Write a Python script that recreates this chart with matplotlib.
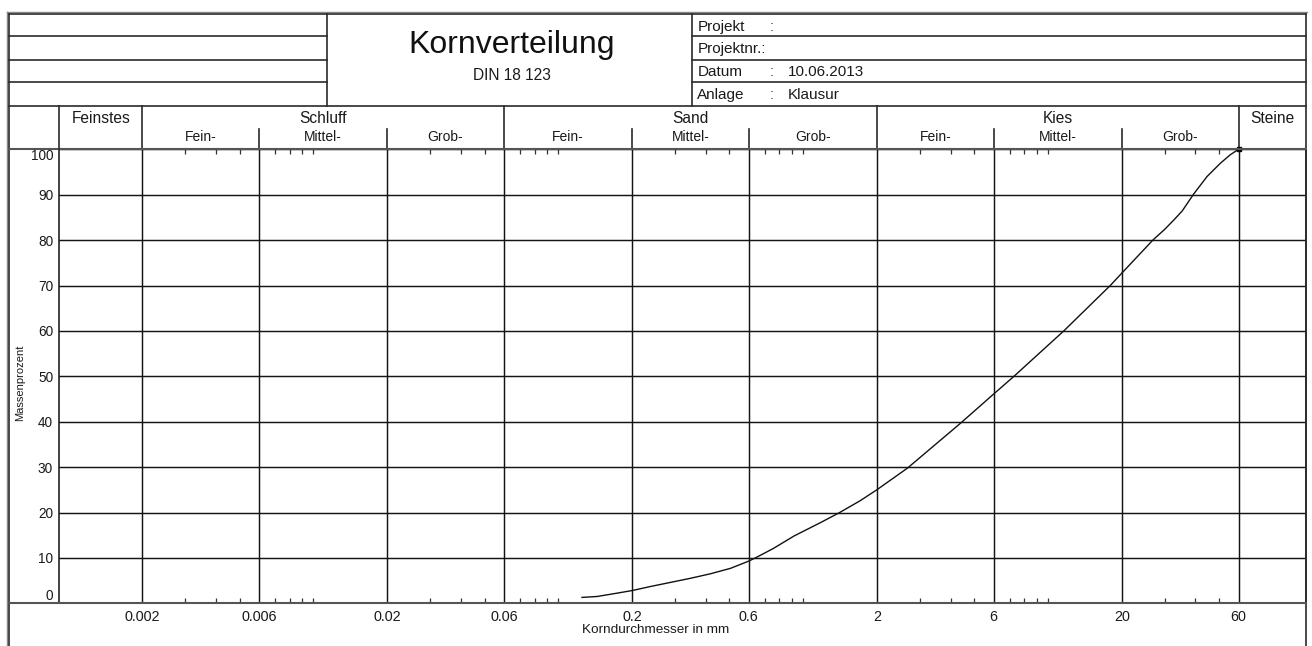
import matplotlib
matplotlib.use('Agg')
import matplotlib.pyplot as plt
from matplotlib.transforms import blended_transform_factory
from matplotlib.ticker import FixedLocator, FixedFormatter, NullFormatter
import numpy as np

plt.rcParams['font.family'] = ['Liberation Sans', 'DejaVu Sans']

# ---------------- data ----------------
korn_mm = [0.125, 0.144, 0.168, 0.2, 0.238, 0.287, 0.346, 0.418, 0.505, 0.6, 0.649,
           0.757, 0.916, 1.18, 1.41, 1.71, 2.0, 2.67, 4.40, 6.0, 7.26, 11.6, 17.96,
           20.0, 26.8, 30.0, 32.6, 35.3, 39.4, 44.6, 50.5, 55.5, 60.0]
massen_pct = [1.3, 1.5, 2.1, 2.8, 3.7, 4.6, 5.5, 6.5, 7.7, 9.3, 10.2,
              12.1, 14.8, 17.8, 20.0, 22.6, 25.0, 29.8, 39.7, 46.1, 50.0, 60.0, 70.0,
              72.7, 80.0, 82.4, 84.4, 86.4, 90.2, 94.0, 96.9, 98.8, 100.0]

x_major = [0.002, 0.006, 0.02, 0.06, 0.2, 0.6, 2, 6, 20, 60]
x_major_labels = ['0.002', '0.006', '0.02', '0.06', '0.2', '0.6', '2', '6', '20', '60']
y_ticks = [0, 10, 20, 30, 40, 50, 60, 70, 80, 90, 100]
y_tick_labels = [str(v) for v in y_ticks]

class_names = ['Feinstes', 'Schluff', 'Sand', 'Kies', 'Steine']
class_bounds = [0.002, 0.06, 2, 60]
sub_bounds = [0.006, 0.02, 0.2, 0.6, 6, 20]
sub_names = ['Fein-', 'Mittel-', 'Grob-']

info_labels = ['Projekt', 'Projektnr.:', 'Datum', 'Anlage']
info_colons = [':', '', ':', ':']
info_values = ['', '', '10.06.2013', 'Klausur']

title = 'Kornverteilung'
subtitle = 'DIN 18 123'

XMIN, XMAX = 0.000917, 112.8

# ---------------- layout (pixels) ----------------
W, H = 1312, 646
L, R, T, B = 59.3, 1305.7, 149.3, 603.3
HEAD_TOP = 105.7
SUB_TOP = 129.3
TOP = 14.3
LEFTF = 9.3

fig = plt.figure(figsize=(W / 100, H / 100), dpi=100)
fig.patch.set_facecolor('white')

ax = fig.add_axes([L / W, 1 - B / H, (R - L) / W, (B - T) / H])
ax.set_facecolor('none')
ax.set_xscale('log')
ax.set_xlim(XMIN, XMAX)
ax.set_ylim(0, 100)

ov = fig.add_axes([0, 0, 1, 1], zorder=5)
ov.set_xlim(0, W)
ov.set_ylim(H, 0)
ov.axis('off')
ov.patch.set_alpha(0)

btf = blended_transform_factory(ax.transData, ov.transData)

# grid & ticks
ax.xaxis.set_major_locator(FixedLocator(x_major))
ax.xaxis.set_major_formatter(FixedFormatter(x_major_labels))
minor = [m * b for b in [0.001, 0.01, 0.1, 1, 10] for m in (3, 4, 5, 7, 8, 9, 10) if m * b < 60]
ax.xaxis.set_minor_locator(FixedLocator(minor))
ax.xaxis.set_minor_formatter(NullFormatter())
ax.yaxis.set_major_locator(FixedLocator(y_ticks))
ax.yaxis.set_major_formatter(FixedFormatter(y_tick_labels))
ax.yaxis.set_minor_locator(FixedLocator([]))

ax.tick_params(axis='x', which='major', length=0, pad=5, labelsize=10.4, colors='#1a1a1a')
ax.tick_params(axis='x', which='minor', direction='in', length=3.6, width=0.9,
               top=True, bottom=True, color='#333')
ax.tick_params(axis='y', which='major', length=0, pad=4.5, labelsize=9.8, colors='#1a1a1a')
ax.grid(which='major', color='#141414', lw=1.05, zorder=1)

ticks = ax.yaxis.get_major_ticks()
ticks[0].label1.set_va('bottom')
ticks[-1].label1.set_va('top')

for s in ['top', 'bottom']:
    ax.spines[s].set_visible(False)
for s in ['left', 'right']:
    ax.spines[s].set_color('#222')
    ax.spines[s].set_linewidth(1.2)

# curve
ax.plot(korn_mm, massen_pct, color='#111', lw=1.0, zorder=3, solid_joinstyle='round')
ax.plot(korn_mm[-1], massen_pct[-1], 's', ms=2.5, color='black', clip_on=False, zorder=4)

# ---------------- frame & header ----------------
lc = '#2a2a2a'
ov.plot([7.3, 7.3], [12.3, H], color='#888', lw=1.0)
ov.plot([LEFTF, LEFTF], [TOP, H], color=lc, lw=1.2)
ov.plot([7.3, R + 1.5], [12.3, 12.3], color='#888', lw=1.0)
ov.plot([LEFTF, R], [TOP, TOP], color=lc, lw=1.2)
ov.plot([R, R], [TOP, H], color=lc, lw=1.2)

for y in [36.0, 59.5, 82.0]:
    ov.plot([LEFTF, 327.3], [y, y], color=lc, lw=1.2)
    ov.plot([692.3, R], [y, y], color=lc, lw=1.2)
ov.plot([LEFTF, R], [HEAD_TOP, HEAD_TOP], color=lc, lw=1.2)
ov.plot([LEFTF, R], [T, T], color='#555', lw=1.5)
ov.plot([LEFTF, R], [B, B], color='#555', lw=1.5)
for x in [327.3, 692.3]:
    ov.plot([x, x], [TOP, HEAD_TOP], color=lc, lw=1.2)
ov.plot([L, L], [HEAD_TOP, T], color=lc, lw=1.2)

ov.text(511.7, 53.3, title, fontsize=23, ha='center', va='baseline', color='#111')
ov.text(511.7, 80.0, subtitle, fontsize=11.2, ha='center', va='baseline', color='#1a1a1a')

for i, (lab, col, val) in enumerate(zip(info_labels, info_colons, info_values)):
    yb = [30.7, 53.3, 75.7, 99.0][i]
    ov.text(697.3, yb, lab, fontsize=11, ha='left', va='baseline', color='#1a1a1a')
    if col:
        ov.text(771.7, yb, col, fontsize=11, ha='center', va='baseline', color='#444')
    if val:
        ov.text(788.0, yb, val, fontsize=11, ha='left', va='baseline', color='#1a1a1a')

# class header
for xb in class_bounds:
    ax.plot([xb, xb], [HEAD_TOP, T], transform=btf, color=lc, lw=1.2, clip_on=False)
for xb in sub_bounds:
    ax.plot([xb, xb], [SUB_TOP, T], transform=btf, color=lc, lw=1.2, clip_on=False)

edges = [XMIN] + class_bounds + [XMAX]
for name, lo, hi in zip(class_names, edges[:-1], edges[1:]):
    ax.text(np.sqrt(lo * hi), 123.0, name, transform=btf, fontsize=11.2,
            ha='center', va='baseline', color='#1a1a1a')

groups = [(0.002, 0.006, 0.02, 0.06), (0.06, 0.2, 0.6, 2), (2, 6, 20, 60)]
for g in groups:
    for name, lo, hi in zip(sub_names, g[:-1], g[1:]):
        ax.text(np.sqrt(lo * hi), 141.0, name, transform=btf, fontsize=10,
                ha='center', va='baseline', color='#1a1a1a')

ov.text(20, 383, 'Massenprozent', rotation=90, fontsize=8, ha='center', va='center', color='#1a1a1a')
ov.text(656, 630, 'Korndurchmesser in mm', fontsize=9.7, ha='center', va='center', color='#1a1a1a')

fig.savefig('out.png', dpi=100, facecolor='white')
